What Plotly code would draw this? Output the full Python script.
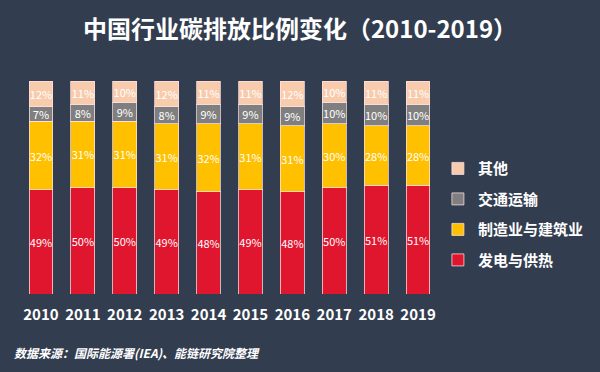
import plotly.graph_objects as go

years = ["2010", "2011", "2012", "2013", "2014", "2015", "2016", "2017", "2018", "2019"]
power_heat = [49, 50, 50, 49, 48, 49, 48, 50, 51, 51]
manufacturing = [32, 31, 31, 31, 32, 31, 31, 30, 28, 28]
transport = [7, 8, 9, 8, 9, 9, 9, 10, 10, 10]
other = [12, 11, 10, 12, 11, 11, 12, 10, 11, 11]

series = [
    ("发电与供热", power_heat, "#e0162f"),
    ("制造业与建筑业", manufacturing, "#ffc000"),
    ("交通运输", transport, "#7f7f7f"),
    ("其他", other, "#f8cbad"),
]

BG = "#323d4f"
FONT = "Noto Sans CJK SC"

fig = go.Figure()
for i, (name, vals, color) in enumerate(series):
    fig.add_trace(go.Bar(
        x=years, y=vals, name=f"<b>{name}</b>",
        marker=dict(color=color, line=dict(color="rgba(255,225,225,0.75)", width=1)),
        text=[f"{v}%" for v in vals],
        textposition="inside", insidetextanchor="middle", textangle=0,
        textfont=dict(color="white", size=11, family=FONT),
        legendgroup=name, legendrank=1000 - i,
    ))

fig.update_layout(
    barmode="stack", barnorm="percent", bargap=0.43,
    width=600, height=372,
    paper_bgcolor=BG, plot_bgcolor=BG,
    margin=dict(l=20, r=160, t=81, b=78),
    font=dict(family=FONT, color="white"),
    uniformtext=dict(minsize=11, mode="show"),
    title=dict(text="<b>中国行业碳排放比例变化（2010-2019）</b>", x=0.5, xref="container", xanchor="center",
               y=1 - 30 / 372, yref="container", yanchor="middle",
               font=dict(size=24, color="white", family=FONT)),
    xaxis=dict(showgrid=False, showline=False, zeroline=False, ticks="",
               tickfont=dict(size=15, color="white", family=FONT), ticklabelstandoff=10,
               tickprefix="<b>", ticksuffix="</b>"),
    yaxis=dict(visible=False, range=[0, 100]),
    legend=dict(traceorder="grouped", x=0.995, xanchor="left", y=0.666, yanchor="top",
                font=dict(size=15, color="white", family=FONT), tracegroupgap=8,
                bgcolor="rgba(0,0,0,0)"),
    annotations=[dict(text="<b><i>数据来源：国际能源署(IEA)、能链研究院整理</i></b>",
                      xref="paper", yref="paper", x=-8 / 420, xanchor="left",
                      y=-(352 - 294) / 213, yanchor="middle", showarrow=False,
                      font=dict(size=12, color="white", family=FONT))],
)

fig.write_html("out.html", config={"displayModeBar": False},
               post_script="document.body.style.margin='0';document.body.style.background='%s';" % BG)
